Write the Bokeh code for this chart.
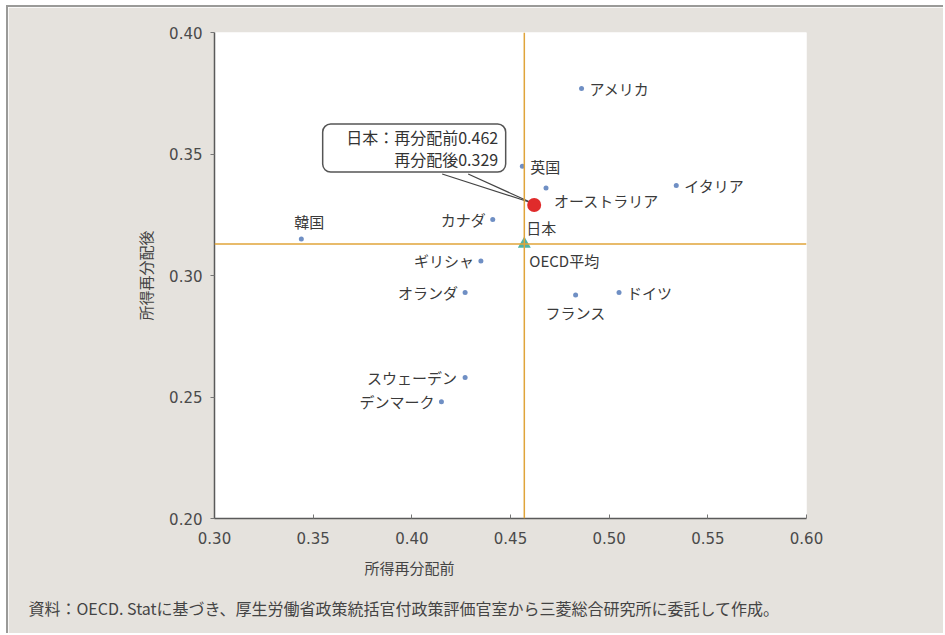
from bokeh.plotting import figure
from bokeh.models import ColumnDataSource, Span, Title, FixedTicker, PrintfTickFormatter
from bokeh.core.properties import value
from bokeh.embed import file_html
from bokeh.resources import INLINE

# Gini coefficient before / after income redistribution
countries = ["アメリカ", "英国", "オーストラリア", "イタリア", "カナダ", "韓国",
             "ギリシャ", "オランダ", "フランス", "ドイツ", "スウェーデン", "デンマーク"]
gini_before = [0.486, 0.456, 0.468, 0.534, 0.441, 0.344,
               0.435, 0.427, 0.483, 0.505, 0.427, 0.415]
gini_after = [0.377, 0.345, 0.336, 0.337, 0.323, 0.315,
              0.306, 0.293, 0.292, 0.293, 0.258, 0.248]

japan_name = "日本"
japan_before = 0.462
japan_after = 0.329

oecd_name = "OECD平均"
oecd_before = 0.457
oecd_after = 0.313

x_ticks = [0.30, 0.35, 0.40, 0.45, 0.50, 0.55, 0.60]
y_ticks = [0.20, 0.25, 0.30, 0.35, 0.40]
x_title = "所得再分配前"
y_title = "所得再分配後"
source_note = "資料：OECD. Statに基づき、厚生労働省政策統括官付政策評価官室から三菱総合研究所に委託して作成。"

JP = "Noto Sans CJK JP"
TXT = "#3a3a3a"
BG = "#e5e2dd"
FS = "15px"

# label placement for each country: (align, x offset px, y offset px)
placement = {
    "アメリカ": ("left", 8, 0),
    "英国": ("left", 8, 0),
    "オーストラリア": ("left", 8, 12),
    "イタリア": ("left", 8, 0),
    "カナダ": ("right", -7, 0),
    "韓国": ("center", 8, -18),
    "ギリシャ": ("right", -7, 0),
    "オランダ": ("right", -7, 0),
    "フランス": ("center", 0, 18),
    "ドイツ": ("left", 8, 0),
    "スウェーデン": ("right", -8, 0),
    "デンマーク": ("right", -7, 0),
}

X0, X1, Y0, Y1 = 0.30, 0.60, 0.20, 0.40
FW, FH = 592, 486
xs = FW / (X1 - X0)   # px per data unit
ys = FH / (Y1 - Y0)

p = figure(width=937, height=628, x_range=(X0, X1), y_range=(Y0, Y1),
           output_backend="svg", toolbar_location=None,
           min_border_left=206, min_border_right=139,
           min_border_top=25, min_border_bottom=117)
# grey panel with a thin frame on its top and left edges
p.styles = {"margin-left": "6px", "margin-top": "5px",
            "border-left": "2px solid #9a9a98", "border-top": "2px solid #9a9a98"}
p.background_fill_color = "white"
p.border_fill_color = BG
p.outline_line_color = None
p.grid.visible = False

for ax in (p.xaxis[0], p.yaxis[0]):
    ax.axis_line_color = "#5a5a5a"
    ax.axis_line_width = 1.5
    ax.major_tick_line_color = "#777777"
    ax.minor_tick_line_color = None
    ax.major_label_text_font = "DejaVu Sans"
    ax.major_label_text_font_size = "15px"
    ax.major_label_text_color = "#4a4a4a"
    ax.formatter = PrintfTickFormatter(format="%.2f")

p.xaxis.ticker = FixedTicker(ticks=x_ticks)
p.yaxis.ticker = FixedTicker(ticks=y_ticks)
p.xaxis.major_tick_in = 4
p.xaxis.major_tick_out = 0
p.xaxis.major_label_standoff = 13
p.yaxis.major_tick_in = 0
p.yaxis.major_tick_out = 4
p.yaxis.major_label_standoff = 8

p.yaxis.axis_label = y_title
p.yaxis.axis_label_text_font = JP
p.yaxis.axis_label_text_font_style = "normal"
p.yaxis.axis_label_text_font_size = FS
p.yaxis.axis_label_text_color = "#444444"
p.yaxis.axis_label_standoff = 10

# OECD average reference lines
for loc, dim in ((oecd_before, "height"), (oecd_after, "width")):
    p.add_layout(Span(location=loc, dimension=dim, line_color="#e0a43a", line_width=1.5))

# countries
aligns = [placement[c][0] for c in countries]
xoff = [placement[c][1] for c in countries]
yoff = [placement[c][2] for c in countries]
src = ColumnDataSource(dict(x=gini_before, y=gini_after, name=countries,
                            align=aligns, xo=xoff, yo=yoff))
p.scatter("x", "y", source=src, size=5, fill_color="#6f8fc4", line_color=None)
p.text("x", "y", text="name", source=src, text_font=value(JP), text_font_size=FS,
       text_color=TXT, text_align="align", text_baseline="middle",
       x_offset="xo", y_offset="yo")

# OECD average
p.scatter([oecd_before], [oecd_after], marker="triangle", size=13,
          fill_color="#4fb3a6", line_color=None)
p.text([oecd_before], [oecd_after], text=[oecd_name], text_font=value(JP),
       text_font_size=FS, text_color=TXT, text_align="left",
       text_baseline="middle", x_offset=5, y_offset=17)

# Japan
p.text([japan_before], [japan_after], text=[japan_name], text_font=value(JP),
       text_font_size=FS, text_color=TXT, text_align="left",
       text_baseline="middle", x_offset=-8, y_offset=22)

# callout for Japan
def dx(px):
    return px / xs

def dy(px):
    return px / ys

cx = japan_before - dx(120)
cy = japan_after + dy(57)
tip = (japan_before - dx(2), japan_after + dy(2))
base_a = (japan_before - dx(92), japan_after + dy(31))
base_b = (japan_before - dx(66), japan_after + dy(31))
p.rect([cx], [cy], width=183, height=48, width_units="screen", height_units="screen",
       fill_color="white", line_color="#555555", line_width=1.5, border_radius=8)
p.patch([base_a[0], tip[0], base_b[0]], [base_a[1], tip[1], base_b[1]],
        fill_color="white", line_color=None)
p.multi_line([[base_a[0], tip[0]], [base_b[0], tip[0]]],
             [[base_a[1], tip[1]], [base_b[1], tip[1]]],
             line_color="#444444", line_width=1.2)
p.scatter([japan_before], [japan_after], size=14, fill_color="#e02b2b", line_color=None)

callout_lines = [f"{japan_name}：再分配前{japan_before:.3f}", f"再分配後{japan_after:.3f}"]
p.text([japan_before, japan_before], [japan_after, japan_after], text=callout_lines,
       text_font=value(JP), text_font_size="16px", text_color="#333333",
       text_align="right", text_baseline="middle", x_offset=-36, y_offset=[-68, -46])

# x-axis title and source note below the axis
p.add_layout(Title(text=x_title, align="left", offset=150, text_font=JP,
                   text_font_size=FS, text_font_style="normal",
                   text_color="#444444", standoff=16), "below")
p.add_layout(Title(text=source_note, align="left", offset=-186, text_font=JP,
                   text_font_size="16px", text_font_style="normal",
                   text_color="#444444", standoff=16), "below")

open("out.html", "w").write(file_html(p, INLINE))
